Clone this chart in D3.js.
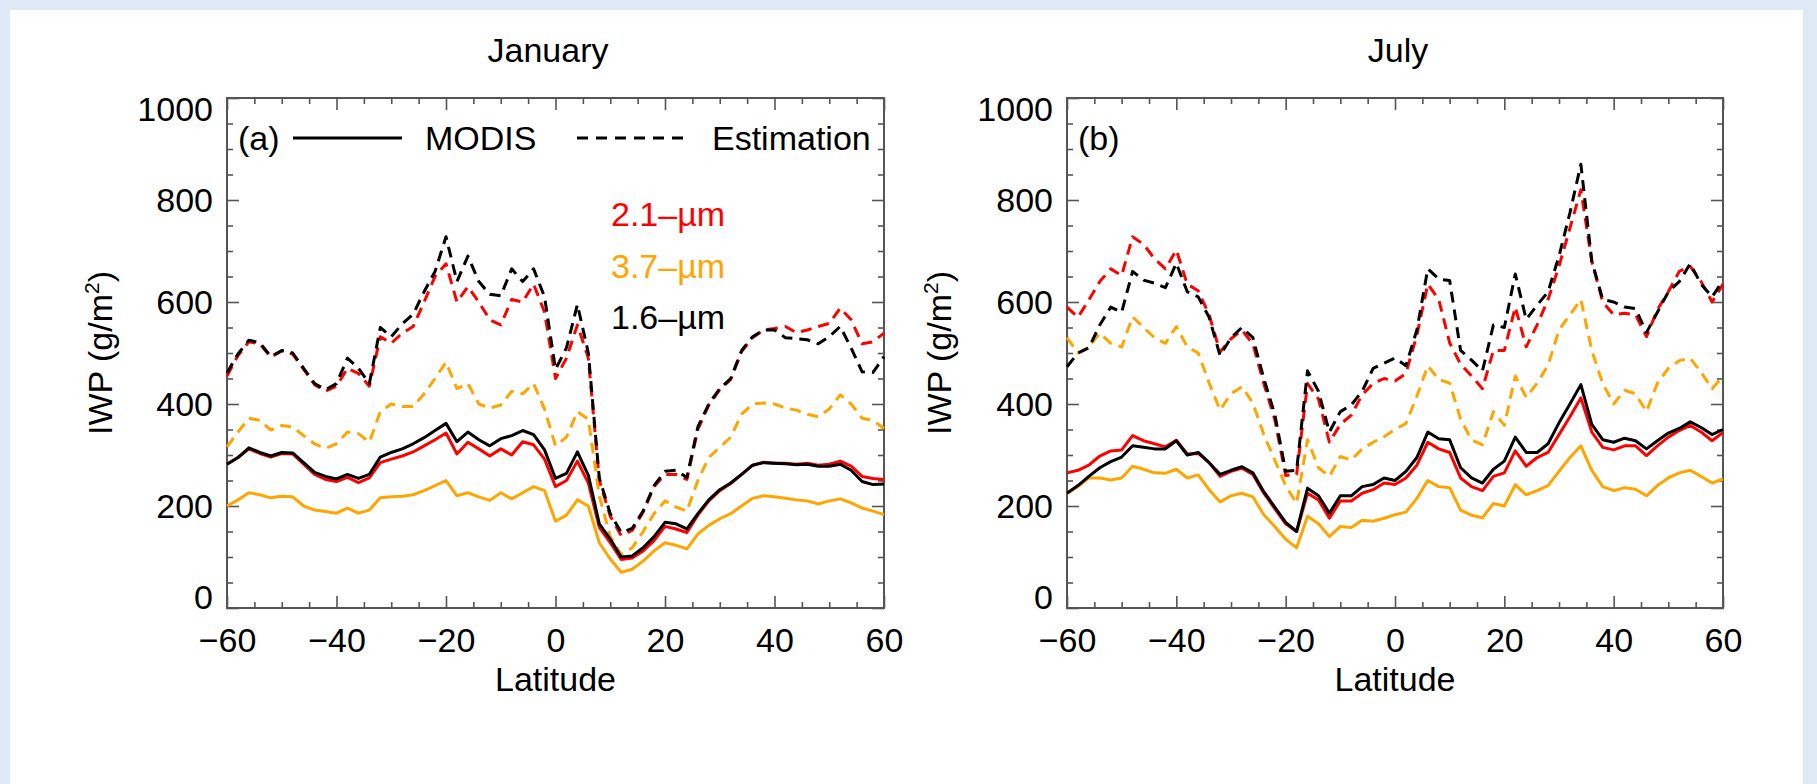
<!DOCTYPE html>
<html>
<head>
<meta charset="utf-8">
<script src="https://cdn.jsdelivr.net/npm/d3@7"></script>
<style>
  body { margin: 0; background: #ffffff; }
  svg { display: block; font-family: "Liberation Sans", Arial, Helvetica, sans-serif; }
</style>
</head>
<body>
<svg id="chart" width="1817" height="784"></svg>
<script>
// ---------------- data ----------------
const latitude = [-60,-58,-56,-54,-52,-50,-48,-46,-44,-42,-40,-38,-36,-34,-32,-30,-28,-26,-24,-22,-20,
  -18,-16,-14,-12,-10,-8,-6,-4,-2,0,2,4,6,8,10,12,14,16,18,20,22,24,26,28,30,32,34,36,38,40,
  42,44,46,48,50,52,54,56,58,60];

const xTickValues = [-60, -40, -20, 0, 20, 40, 60];
const yTickValues = [0, 200, 400, 600, 800, 1000];
const channels = ["2.1\u2013\u00b5m", "3.7\u2013\u00b5m", "1.6\u2013\u00b5m"];
const channelColors = ["#ff0000", "#ffa500", "#000000"];

// January, MODIS retrievals (solid)
const janModis21 = [282,295,312,303,296,303,302,282,262,252,248,256,246,255,285,292,298,306,318,330,343,
  302,325,312,298,312,300,326,320,292,238,250,288,245,158,128,95,98,112,132,160,155,148,182,210,230,
  244,262,280,286,284,284,282,284,280,282,288,278,258,254,252];
const janModis37 = [200,212,226,222,216,219,218,200,192,189,186,196,186,192,216,218,219,222,230,240,250,
  220,226,218,211,226,214,226,238,230,170,182,212,200,128,96,70,76,92,112,128,123,116,145,162,175,
  185,200,215,220,218,215,212,210,204,210,214,206,196,190,183];
const janModis16 = [282,295,314,305,298,305,304,285,266,258,253,262,254,262,296,305,312,322,334,348,362,
  326,345,330,318,332,338,348,340,310,254,264,306,260,165,135,100,102,118,140,168,165,155,185,212,232,
  245,262,280,285,284,283,281,282,278,278,282,270,248,242,243];

// January, estimations (dashed)
const janEst21 = [455,495,522,518,492,504,498,468,438,425,435,470,460,435,532,519,539,552,600,650,675,
  600,630,600,565,555,605,600,635,580,450,490,555,490,250,180,142,152,188,238,262,262,252,350,398,428,
  448,503,530,545,548,552,540,545,552,558,588,565,518,522,539];
const janEst37 = [316,345,372,368,349,358,355,338,322,313,322,345,342,325,385,400,395,395,420,450,482,
  430,440,400,392,398,425,420,440,390,318,335,385,370,220,140,105,118,150,185,210,198,190,250,295,315,
  335,380,400,402,400,392,388,380,375,390,418,400,372,368,352];
const janEst16 = [461,498,525,520,493,505,500,470,440,428,440,490,470,440,550,532,557,576,620,660,728,
  640,690,640,615,612,665,640,665,610,468,510,595,500,255,185,148,156,190,240,268,270,256,355,400,430,
  450,505,532,545,545,530,528,526,518,532,552,510,463,462,493];

// July, MODIS retrievals (solid)
const julModis21 = [265,270,280,298,308,310,338,328,322,316,329,302,303,285,258,268,274,262,225,195,165,
  150,225,212,176,210,210,225,232,245,242,255,280,325,312,305,255,238,230,258,265,308,278,295,305,340,
  375,412,345,315,310,318,318,299,318,335,348,358,345,328,344];
const julModis37 = [225,238,255,255,251,255,278,272,265,264,272,255,261,232,208,220,225,218,183,160,135,
  118,180,165,140,160,158,172,170,176,183,188,215,250,238,236,192,182,177,205,200,242,222,230,240,268,
  295,318,270,238,230,236,233,220,240,255,265,270,258,245,253];
const julModis16 = [225,240,258,275,287,296,318,315,312,312,328,300,305,285,262,270,277,265,228,198,168,
  150,235,220,186,220,220,238,242,255,250,268,295,345,332,330,275,255,245,272,288,335,305,305,322,363,
  400,438,360,330,325,333,328,312,328,343,352,365,354,340,350];

// July, estimations (dashed)
const julEst21 = [590,570,604,640,665,652,728,713,685,665,702,635,622,575,502,528,545,518,440,370,260,
  262,440,410,325,360,378,418,440,450,445,460,535,635,605,520,478,455,430,505,505,590,512,555,605,670,
  745,820,680,600,575,578,575,532,585,620,660,670,640,600,635];
const julEst37 = [530,500,512,539,519,512,571,550,530,519,552,512,500,441,388,420,434,402,340,290,240,
  205,330,275,258,297,290,312,325,336,350,362,415,475,448,441,370,330,320,385,358,455,413,441,476,545,
  575,605,505,440,400,427,420,385,441,470,485,490,462,430,455];
const julEst16 = [473,500,510,555,590,580,660,643,637,628,676,620,610,570,495,530,550,530,450,380,268,
  270,465,425,345,385,398,425,470,480,490,475,545,665,645,642,505,486,465,555,550,655,566,594,620,690,
  775,870,680,605,600,590,587,540,580,620,640,675,635,610,642];

// ---------------- layout ----------------
const W = 1817, H = 784;
const plotTop = 98, plotBottom = 608;
const fontSize = 34;
const frameColor = "#555555";
const marginBlue = "#dfe9f5";

const panels = [
  { title: "January", tag: "(a)", left: 227, right: 884, titleX: 548, yTitleX: 112,
    modis: [janModis21, janModis37, janModis16], est: [janEst21, janEst37, janEst16], legend: true },
  { title: "July", tag: "(b)", left: 1067, right: 1723, titleX: 1398, yTitleX: 951,
    modis: [julModis21, julModis37, julModis16], est: [julEst21, julEst37, julEst16], legend: false }
];

const svg = d3.select("#chart");
svg.append("rect").attr("width", W).attr("height", H).attr("fill", "#ffffff");
// pale blue page margin (top, left, right)
svg.append("rect").attr("x", 0).attr("y", 0).attr("width", W).attr("height", 10).attr("fill", marginBlue);
svg.append("rect").attr("x", 0).attr("y", 0).attr("width", 10).attr("height", H).attr("fill", marginBlue);
svg.append("rect").attr("x", W - 14).attr("y", 0).attr("width", 14).attr("height", H).attr("fill", marginBlue);

const fmt = d => (d < 0 ? "\u2212" + Math.abs(d) : String(d));

function styleAxis(g) {
  g.select(".domain").remove();
  g.selectAll(".tick line").attr("stroke", frameColor).attr("stroke-width", 1.6);
  g.selectAll(".tick text").attr("fill", "#000").attr("font-size", fontSize)
    .attr("font-family", "Liberation Sans, Arial, sans-serif");
}

panels.forEach(p => {
  const x = d3.scaleLinear().domain([-60, 60]).range([p.left, p.right]);
  const y = d3.scaleLinear().domain([0, 1000]).range([plotBottom, plotTop]);
  const g = svg.append("g");

  const xMinor = d3.range(-55, 60, 5).filter(v => v % 20 !== 0);
  const yMinor = d3.range(50, 1000, 50).filter(v => v % 200 !== 0);

  // bottom axis with labels
  g.append("g").attr("transform", `translate(0,${plotBottom})`)
    .call(d3.axisBottom(x).tickValues(xTickValues).tickSize(-12).tickPadding(20).tickFormat(fmt))
    .call(styleAxis);
  g.append("g").attr("transform", `translate(0,${plotBottom})`)
    .call(d3.axisBottom(x).tickValues(xMinor).tickSize(-6).tickFormat(""))
    .call(styleAxis);
  // top axis, ticks only
  g.append("g").attr("transform", `translate(0,${plotTop})`)
    .call(d3.axisTop(x).tickValues(xTickValues).tickSize(-12).tickFormat(""))
    .call(styleAxis);
  g.append("g").attr("transform", `translate(0,${plotTop})`)
    .call(d3.axisTop(x).tickValues(xMinor).tickSize(-6).tickFormat(""))
    .call(styleAxis);
  // left axis with labels
  const yl = g.append("g").attr("transform", `translate(${p.left},0)`)
    .call(d3.axisLeft(y).tickValues(yTickValues).tickSize(-12).tickPadding(14).tickFormat(fmt))
    .call(styleAxis);
  yl.selectAll(".tick text").attr("dy", d => d === 0 ? "0em" : d === 1000 ? "0.72em" : "0.35em")
    .attr("y", d => d === 1000 ? -2 : 0);
  g.append("g").attr("transform", `translate(${p.left},0)`)
    .call(d3.axisLeft(y).tickValues(yMinor).tickSize(-6).tickFormat(""))
    .call(styleAxis);
  // right axis, ticks only
  g.append("g").attr("transform", `translate(${p.right},0)`)
    .call(d3.axisRight(y).tickValues(yTickValues).tickSize(-12).tickFormat(""))
    .call(styleAxis);
  g.append("g").attr("transform", `translate(${p.right},0)`)
    .call(d3.axisRight(y).tickValues(yMinor).tickSize(-6).tickFormat(""))
    .call(styleAxis);

  // frame
  g.append("rect").attr("x", p.left).attr("y", plotTop)
    .attr("width", p.right - p.left).attr("height", plotBottom - plotTop)
    .attr("fill", "none").attr("stroke", frameColor).attr("stroke-width", 2);

  // data lines
  const line = d3.line().x((d, i) => x(latitude[i])).y(d => y(d));
  const lines = g.append("g").attr("fill", "none").attr("stroke-width", 3)
    .attr("stroke-linejoin", "round");
  p.est.forEach((s, k) => {
    lines.append("path").attr("d", line(s)).attr("stroke", channelColors[k])
      .attr("stroke-dasharray", "11,7");
  });
  p.modis.forEach((s, k) => {
    lines.append("path").attr("d", line(s)).attr("stroke", channelColors[k]);
  });

  // titles
  g.append("text").attr("x", p.titleX).attr("y", 62).attr("text-anchor", "middle")
    .attr("font-size", fontSize).text(p.title);
  g.append("text").attr("x", (p.left + p.right) / 2).attr("y", 691).attr("text-anchor", "middle")
    .attr("font-size", fontSize).text("Latitude");
  const yt = g.append("text").attr("transform", `translate(${p.yTitleX},${(plotTop + plotBottom) / 2}) rotate(-90)`)
    .attr("text-anchor", "middle").attr("font-size", fontSize);
  yt.append("tspan").text("IWP (g/m");
  yt.append("tspan").attr("font-size", 21).attr("dy", -13).text("2");
  yt.append("tspan").attr("dy", 13).text(")");

  g.append("text").attr("x", p.left + 11).attr("y", 150).attr("font-size", fontSize).text(p.tag);

  if (p.legend) {
    const ly = 138;
    g.append("line").attr("x1", 293).attr("x2", 402).attr("y1", ly).attr("y2", ly)
      .attr("stroke", "#000").attr("stroke-width", 3);
    g.append("text").attr("x", 425).attr("y", 150).attr("font-size", fontSize).text("MODIS");
    g.append("line").attr("x1", 577).attr("x2", 688).attr("y1", ly).attr("y2", ly)
      .attr("stroke", "#000").attr("stroke-width", 3).attr("stroke-dasharray", "11,8");
    g.append("text").attr("x", 712).attr("y", 150).attr("font-size", fontSize).text("Estimation");
    channels.forEach((c, k) => {
      g.append("text").attr("x", 611).attr("y", 226 + k * 51.5).attr("font-size", fontSize)
        .attr("fill", channelColors[k]).text(c);
    });
  }
});
</script>
</body>
</html>
